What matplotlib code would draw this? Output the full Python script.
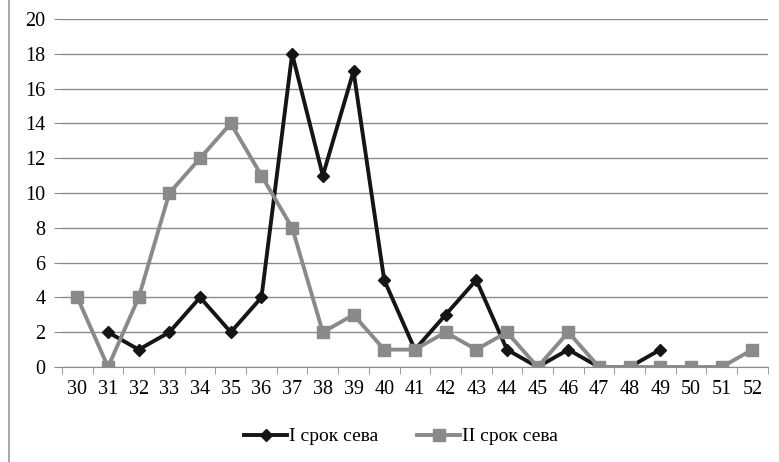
import matplotlib
matplotlib.use("Agg")
import matplotlib.pyplot as plt
import numpy as np

weeks = [str(w) for w in range(30, 53)]
# None = no observation for that week
sowing_1 = [None, 2, 1, 2, 4, 2, 4, 18, 11, 17, 5, 1, 3, 5, 1, 0, 1, 0, 0, 1,
            None, None, None]
sowing_2 = [4, 0, 4, 10, 12, 14, 11, 8, 2, 3, 1, 1, 2, 1, 2, 0, 2, 0, 0, 0,
            0, 0, 1]
labels = ["I срок сева", "II срок сева"]

plt.rcParams["font.family"] = ["Liberation Serif", "DejaVu Serif"]

fig = plt.figure(figsize=(7.79, 4.62), dpi=100)
ax = fig.add_axes([0.0796, 0.2056, 0.906, 0.7533])

x = np.arange(len(weeks))
s1 = np.array([np.nan if v is None else v for v in sowing_1], float)
s2 = np.array(sowing_2, float)

ax.plot(x, s1, color="#151515", lw=2.8, marker="D", ms=6,
        mfc="#151515", mec="#151515", label=labels[0], zorder=3)
ax.plot(x, s2, color="#8a8a8a", lw=2.8, marker="s", ms=9,
        mfc="#8a8a8a", mec="#8a8a8a", label=labels[1], zorder=4)

ax.set_xlim(-0.5, len(weeks) - 0.5)
ax.set_ylim(0, 20)
ax.set_yticks(range(0, 21, 2))
ax.set_xticks(x)
ax.set_xticklabels(weeks)
ax.set_xticks(np.arange(-0.5, len(weeks), 1), minor=True)
ax.tick_params(axis="x", which="major", length=0, pad=9, labelsize=14.5)
ax.tick_params(axis="x", which="minor", length=5, color="#888888")
ax.tick_params(axis="y", length=6, color="#888888", pad=6, labelsize=14.5)
ax.grid(axis="y", color="#8c8c8c", lw=1.0)
ax.set_axisbelow(True)
for side in ("top", "right", "left"):
    ax.spines[side].set_visible(False)
ax.spines["bottom"].set_color("#8c8c8c")

fig.legend(loc="center", bbox_to_anchor=(0.515, 0.055),
           ncol=2, frameon=False, fontsize=14, handlelength=2.2,
           handletextpad=0.1, columnspacing=2.0)

# thin frame line at the left edge
fig.add_artist(plt.Line2D([0.012, 0.012], [0.0, 1.0], color="#999999", lw=1.2))

fig.savefig("out.png", dpi=100)
